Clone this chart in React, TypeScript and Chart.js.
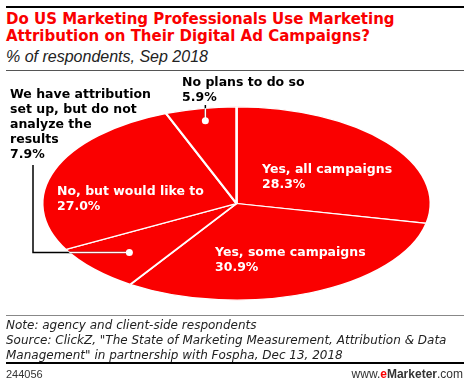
import React, { useEffect, useRef } from "react";
import { Chart, registerables } from "chart.js";

Chart.register(...registerables);

const categories = [
  "Yes, all campaigns",
  "Yes, some campaigns",
  "We have attribution set up, but do not analyze the results",
  "No, but would like to",
  "No plans to do so",
];
const values = [28.3, 30.9, 7.9, 27.0, 5.9];
const labelLines = [
  ["Yes, all campaigns"],
  ["Yes, some campaigns"],
  ["We have attribution", "set up, but do not", "analyze the", "results"],
  ["No, but would like to"],
  ["No plans to do so"],
];

const W = 470;
const H = 409;
const SY = 97 / 195;
const FONT = '"Liberation Sans", Arial, sans-serif';
const BOLD = '"DejaVu Sans", sans-serif';
const RED = "#fa0000";

export default function App() {
  const ref = useRef<HTMLCanvasElement>(null);

  useEffect(() => {
    const canvas = ref.current;
    if (!canvas) return;
    const labelPos = [
      { x: 262, y: 170, color: "#ffffff" },
      { x: 215, y: 253, color: "#ffffff" },
      { x: 10, y: 95, color: "#000000" },
      { x: 57, y: 192, color: "#ffffff" },
      { x: 182, y: 83, color: "#000000" },
    ];
    const ellipsePlugin = {
      id: "ellipse",
      beforeDatasetsDraw(chart: any) {
        const arc = chart.getDatasetMeta(0).data[0] as any;
        const ctx = chart.ctx as CanvasRenderingContext2D;
        ctx.save();
        ctx.translate(arc.x, arc.y);
        ctx.scale(1, SY);
        ctx.translate(-arc.x, -arc.y);
      },
      afterDatasetsDraw(chart: any) {
        const ctx = chart.ctx as CanvasRenderingContext2D;
        ctx.restore();
        const meta = chart.getDatasetMeta(0);
        const a0 = meta.data[0] as any;
        const cx = a0.x, cy = a0.y, R = a0.outerRadius, ry = R * SY;
        const dotOf = (i: number, f: number) => {
          const a = meta.data[i] as any;
          const m = (a.startAngle + a.endAngle) / 2;
          return { x: cx + Math.cos(m) * R * f, y: cy + Math.sin(m) * ry * f };
        };
        const d4 = dotOf(4, 0.87);
        const d2 = dotOf(2, 0.75);
        const paths = [
          [[d4.x, 105], [d4.x, d4.y]],
          [[33, 165], [33, d2.y], [d2.x, d2.y]],
        ];
        const drawPaths = (color: string) => {
          ctx.strokeStyle = color;
          ctx.lineWidth = 1.5;
          for (const p of paths) {
            ctx.beginPath();
            ctx.moveTo(p[0][0], p[0][1]);
            for (let k = 1; k < p.length; k++) ctx.lineTo(p[k][0], p[k][1]);
            ctx.stroke();
          }
        };
        ctx.save();
        drawPaths("#000000");
        ctx.restore();
        ctx.save();
        ctx.beginPath();
        ctx.ellipse(cx, cy, R, ry, 0, 0, Math.PI * 2);
        ctx.clip();
        drawPaths("#ffffff");
        ctx.restore();
        ctx.save();
        ctx.fillStyle = "#ffffff";
        for (const d of [d4, d2]) {
          ctx.beginPath();
          ctx.arc(d.x, d.y, 3.5, 0, Math.PI * 2);
          ctx.fill();
        }
        ctx.font = `bold 12.5px ${BOLD}`;
        ctx.textBaseline = "middle";
        ctx.textAlign = "left";
        labelLines.forEach((lines, i) => {
          const pos = labelPos[i];
          ctx.fillStyle = pos.color;
          const all = [...lines, values[i].toFixed(1) + "%"];
          all.forEach((t, k) => ctx.fillText(t, pos.x, pos.y + k * 15));
        });
        ctx.restore();
      },
    };

    const chart = new Chart(canvas, {
      type: "pie",
      data: {
        labels: categories,
        datasets: [
          {
            data: values,
            backgroundColor: RED,
            borderColor: "#ffffff",
            borderWidth: 2.5,
          },
        ],
      },
      options: {
        responsive: false,
        animation: false,
        events: [],
        layout: { padding: { left: 41, right: 38, top: 8, bottom: 10 } },
        plugins: { legend: { display: false }, tooltip: { enabled: false } },
      },
      plugins: [ellipsePlugin],
    } as any);
    return () => chart.destroy();
  }, []);

  const abs = (s: React.CSSProperties): React.CSSProperties => ({ position: "absolute", ...s });

  return (
    <div
      style={{
        position: "fixed",
        left: 0,
        top: 0,
        width: W,
        height: 385,
        overflow: "hidden",
        background: "#fff",
        fontFamily: FONT,
      }}
    >
      <div style={abs({ left: 6, top: 6, width: 458, height: 2, background: "#000" })} />
      <div
        style={abs({
          left: 6,
          top: 11,
          fontSize: 15,
          lineHeight: "17px",
          fontWeight: 700,
          fontFamily: BOLD,
          color: RED,
          whiteSpace: "nowrap",
        })}
      >
        Do US Marketing Professionals Use Marketing
        <br />
        Attribution on Their Digital Ad Campaigns?
      </div>
      <div
        style={abs({
          left: 6,
          top: 48,
          fontSize: 16,
          lineHeight: "17px",
          fontStyle: "italic",
          color: "#222",
          whiteSpace: "nowrap",
        })}
      >
        % of respondents, Sep 2018
      </div>
      <div style={abs({ left: 6, top: 70, width: 458, height: 1, background: "#555" })} />
      <canvas ref={ref} width={W} height={H} style={abs({ left: 0, top: 0, width: W, height: H })} />
      <div style={abs({ left: 6, top: 315, width: 458, height: 1, background: "#888" })} />
      <div
        style={abs({
          left: 6,
          top: 318,
          fontSize: 12,
          lineHeight: "15px",
          fontStyle: "italic",
          fontFamily: '"DejaVu Sans", sans-serif',
          color: "#222",
          whiteSpace: "nowrap",
        })}
      >
        Note: agency and client-side respondents
        <br />
        Source: ClickZ, "The State of Marketing Measurement, Attribution &amp; Data
        <br />
        Management" in partnership with Fospha, Dec 13, 2018
      </div>
      <div style={abs({ left: 6, top: 362, width: 458, height: 2, background: "#000" })} />
      <div style={abs({ left: 6, top: 368, fontSize: 11, lineHeight: "13px", color: "#333" })}>244056</div>
      <div
        style={abs({
          right: 7,
          top: 367,
          fontSize: 12,
          lineHeight: "14px",
          color: "#333",
          whiteSpace: "nowrap",
        })}
      >
        www.<span style={{ color: RED, fontWeight: 700 }}>e</span>
        <span style={{ fontWeight: 700 }}>Marketer</span>.com
      </div>
    </div>
  );
}
